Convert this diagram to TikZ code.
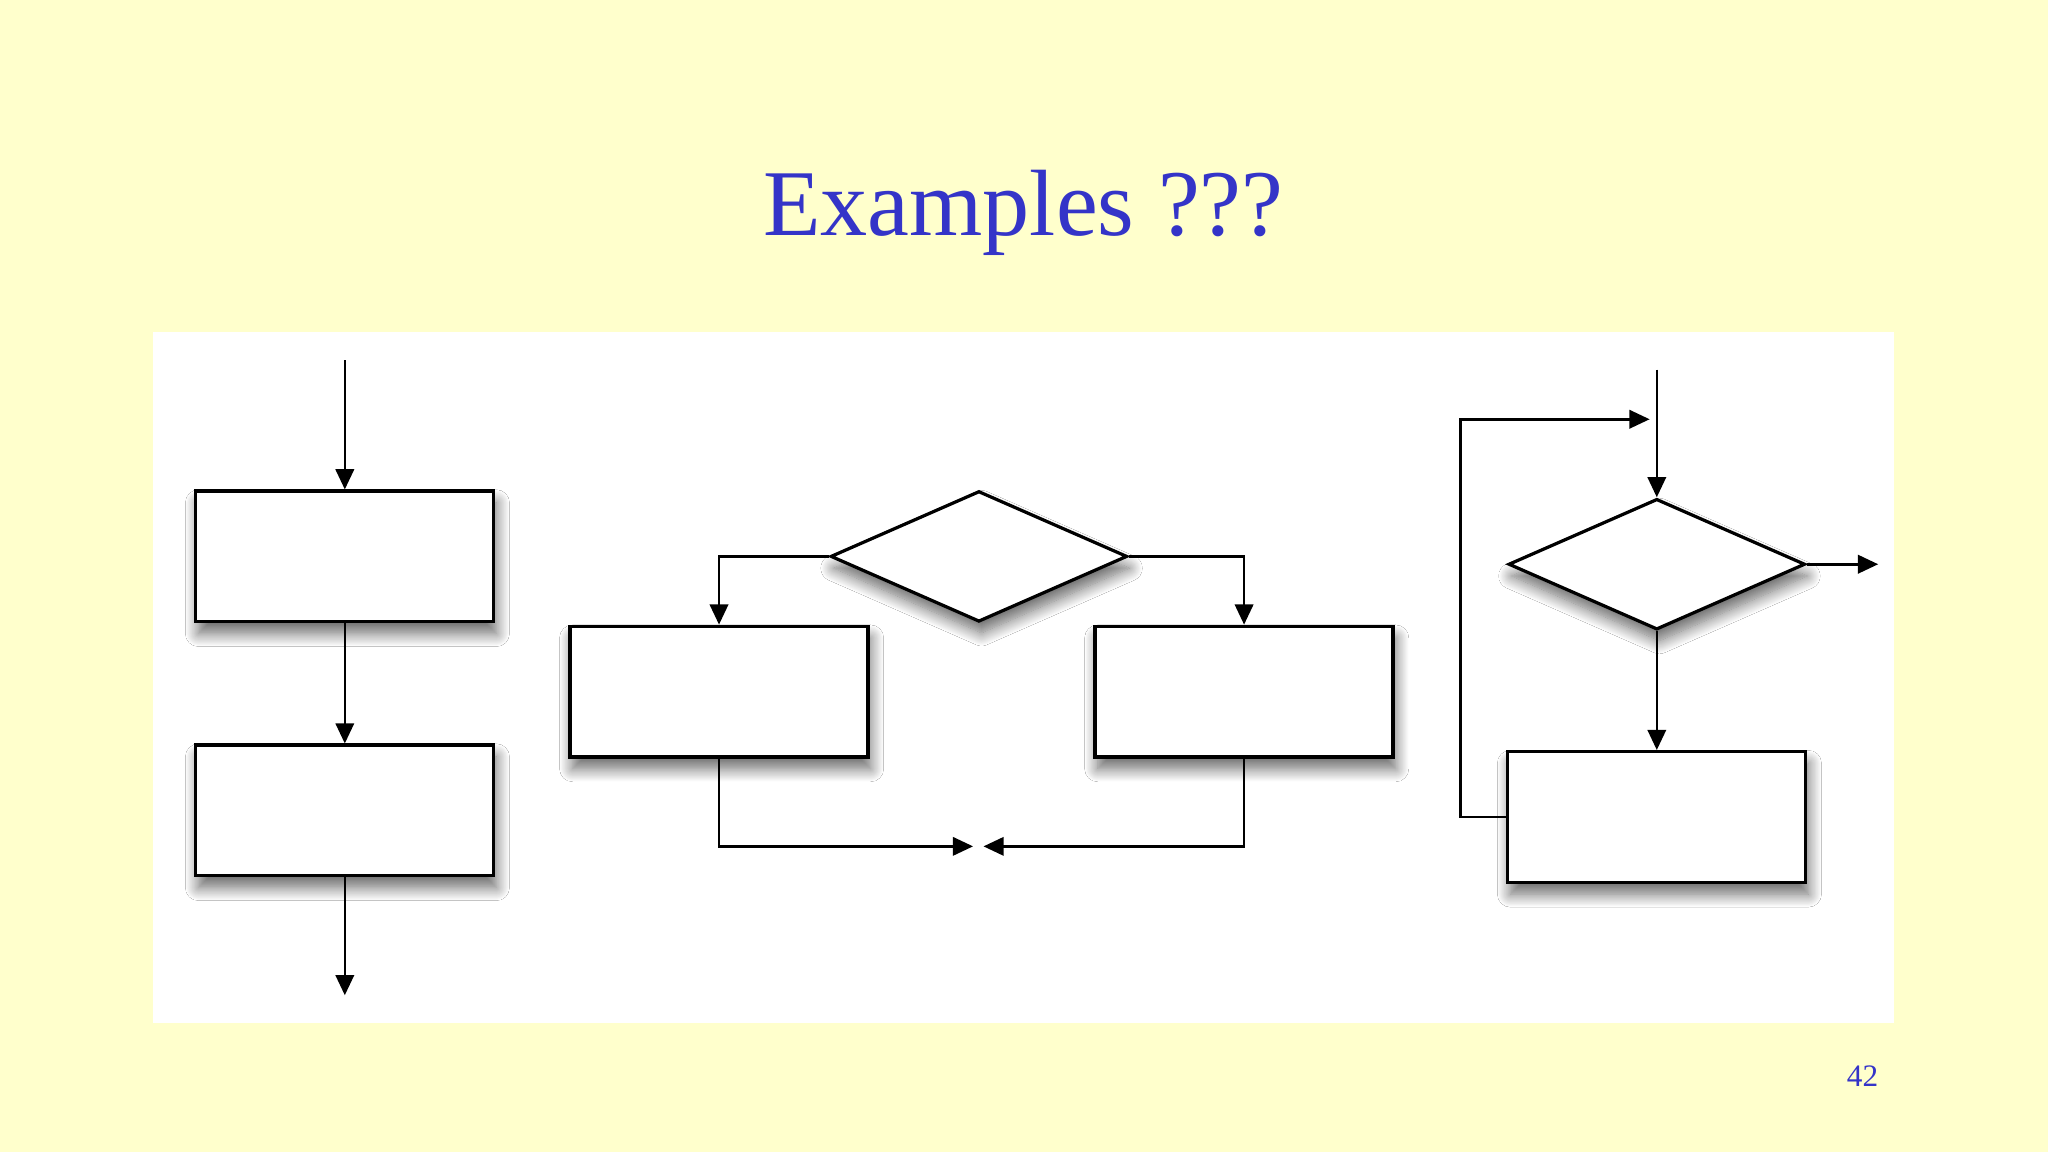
\documentclass[tikz,border=0pt]{standalone}
\usepackage{fontspec}
\setmainfont{Liberation Serif}
\usetikzlibrary{shapes.geometric}
\usetikzlibrary{positioning}
\usetikzlibrary{arrows.meta}
\usetikzlibrary{shadows.blur}
\definecolor{slideBg}{HTML}{FFFFCC}
\definecolor{titleBlue}{HTML}{3434C8}

\begin{document}
\begin{tikzpicture}[x=0.01cm,y=-0.01cm]
	\tikzstyle{arrow}=[draw, line width=0.55pt, -{Triangle[length=4.4pt,width=4pt]}]
	\tikzstyle{softShadow}=[blur shadow={shadow xshift=0.2mm, shadow yshift=-0.9mm, shadow blur radius=1mm, shadow blur steps=16, shadow opacity=60}]
	\tikzstyle{box}=[rectangle, draw, line width=0.7pt, fill=white, minimum width=2.28cm, minimum height=1cm, inner sep=0pt, softShadow]
	\tikzstyle{decision}=[diamond, draw, line width=0.7pt, fill=white, aspect=2.27, minimum width=2.27cm, minimum height=1cm, inner sep=0pt, softShadow]

	% slide
	\fill[slideBg] (0,0) rectangle (1568,882);
	\fill[white] (117,254) rectangle (1450,783);
	\node[text=titleBlue, font=\fontsize{20.5}{24}\selectfont, anchor=base] at (783.5,180) (title) {Examples ???};
	\node[text=titleBlue, font=\fontsize{6.8}{8}\selectfont, anchor=base] at (1426,832) (pageNum) {42};

	% sequence
	\coordinate (seqIn) at (264,276);
	\node[box] at (264,426) (seqOne) {};
	\node[box] at (264,620.5) (seqTwo) {};
	\coordinate (seqOut) at (264,762);
	\path[arrow] (seqIn) -- (seqOne);
	\path[arrow] (seqOne) -- (seqTwo);
	\path[arrow] (seqTwo) -- (seqOut);

	% selection
	\node[decision] at (749.5,426) (selCond) {};
	\node[box] at (550.5,529.5) (selLeft) {};
	\node[box] at (952.5,529.5) (selRight) {};
	\coordinate (selJoinLeft) at (745,648);
	\coordinate (selJoinRight) at (753,648);
	\path[arrow] (selCond.west) -| (selLeft);
	\path[arrow] (selCond.east) -| (selRight);
	\path[arrow] (selLeft) |- (selJoinLeft);
	\path[arrow] (selRight) |- (selJoinRight);

	% loop
	\coordinate (loopIn) at (1268.5,283);
	\node[decision] at (1268.5,432) (loopCond) {};
	\node[box] at (1268.5,625.5) (loopBody) {};
	\coordinate (loopExit) at (1438,432);
	\coordinate (loopLeft) at (1118,321);
	\coordinate (loopBack) at (1263,321);
	\path[arrow] (loopIn) -- (loopCond);
	\path[arrow] (loopCond) -- (loopExit);
	\path[arrow] (loopCond) -- (loopBody);
	\path[arrow] (loopBody.west) -| (loopLeft) -- (loopBack);
\end{tikzpicture}
\end{document}
